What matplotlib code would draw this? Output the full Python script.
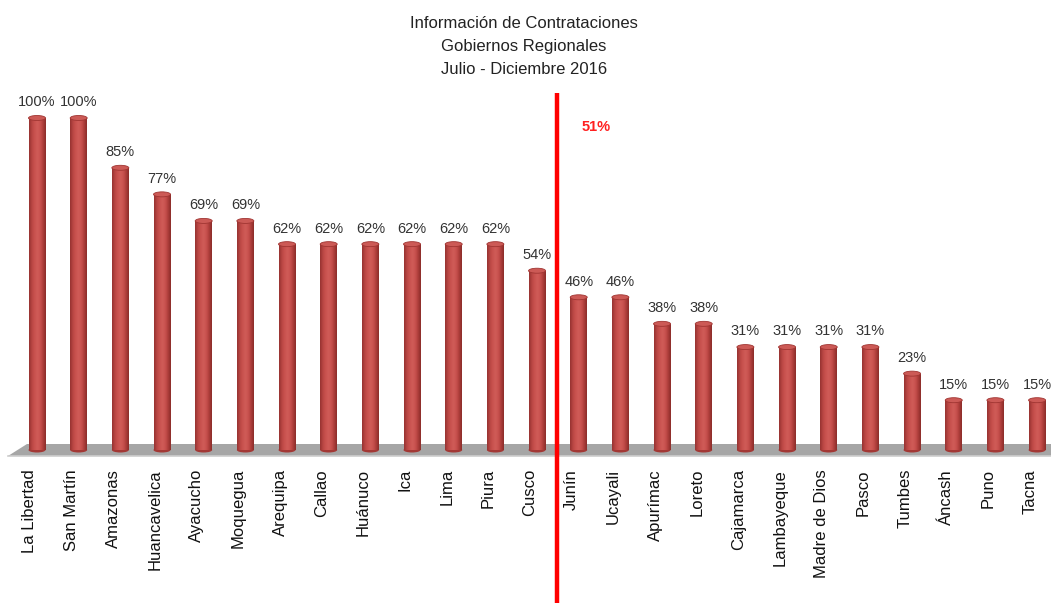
import matplotlib
matplotlib.use("Agg")
import matplotlib.pyplot as plt
import numpy as np
from matplotlib.patches import Ellipse, Polygon
from matplotlib.colors import LinearSegmentedColormap

regions = ["La Libertad", "San Martín", "Amazonas", "Huancavelica", "Ayacucho",
           "Moquegua", "Arequipa", "Callao", "Huánuco", "Ica", "Lima", "Piura",
           "Cusco", "Junín", "Ucayali", "Apurímac", "Loreto", "Cajamarca",
           "Lambayeque", "Madre de Dios", "Pasco", "Tumbes", "Áncash", "Puno", "Tacna"]
values = [100, 100, 85, 77, 69, 69, 62, 62, 62, 62, 62, 62, 54,
          46, 46, 38, 38, 31, 31, 31, 31, 23, 15, 15, 15]
average = 51
title_lines = ["Información de Contrataciones", "Gobiernos Regionales", "Julio - Diciembre 2016"]

plt.rcParams['font.family'] = ['Liberation Sans', 'DejaVu Sans']

W, H = 1051, 603
fig = plt.figure(figsize=(W / 100, H / 100), dpi=100)
ax = fig.add_axes([0, 0, 1, 1])
# pixel mapping: index 0 at x=37px, spacing 41.67px; value 0 at y=450px, 3.32 px per unit
sx, x0 = 41.67, 37
sy, y0 = 3.32, 450
ax.set_xlim(-x0 / sx, (W - x0) / sx)
ax.set_ylim(-(H - y0) / sy, y0 / sy)
ax.axis('off')

# floor
fl_top, fl_bot = (450 - 444) / sy, (450 - 456) / sy
floor = Polygon([((8 - x0) / sx, fl_bot), ((27 - x0) / sx, fl_top),
                 ((W - x0) / sx + 1, fl_top), ((W - x0) / sx + 1, fl_bot)],
                closed=True, facecolor="#A6A6A6", edgecolor="none", zorder=1)
ax.add_patch(floor)
ax.plot([(8 - x0) / sx, (W - x0) / sx + 1], [fl_bot, fl_bot], color="#CDCDCD", lw=1.2, zorder=1)

cmap = LinearSegmentedColormap.from_list(
    "cyl", ["#953230", "#B94643", "#C9524F", "#D05C58", "#C9524F", "#AE3E3B", "#8A2C29"])
grad = np.linspace(0, 1, 64).reshape(1, -1)
bw = 17 / sx
eh = 5 / sy
lab_dx = -7 / sx
x = np.arange(len(values))
bars = ax.bar(x, values, width=bw, color="#C0504D", zorder=2)
for i, (xi, v, b) in enumerate(zip(x, values, bars)):
    im = ax.imshow(grad, cmap=cmap, aspect='auto', extent=(xi - bw / 2, xi + bw / 2, 0, v),
                   zorder=3, interpolation='bicubic')
    im.set_clip_path(b)
    ax.add_patch(Ellipse((xi, 0), bw, eh, facecolor="#A33835", edgecolor="none", zorder=2.5))
    ax.add_patch(Ellipse((xi, v), bw, eh, facecolor="#CC5A56", edgecolor="#A03532", lw=0.6, zorder=4))
    ax.text(xi, v + 2.6, f"{v}%", ha='center', va='bottom', fontsize=10.5, color="#333333", zorder=5)
    ax.text(xi + lab_dx, (450 - 469) / sy, regions[i], rotation=90,
            ha='center', va='top', fontsize=12, color="#111111", zorder=5)

# average line
lx = (557 - x0) / sx
ax.plot([lx, lx], [(450 - 93) / sy, -(H - y0) / sy], color="#FF0000", lw=3.2, zorder=6,
        solid_capstyle='butt')
ax.text((596 - x0) / sx, (450 - 127) / sy, f"{average}%", color="#FF2020", fontsize=10.5,
        fontweight='bold', ha='center', va='center', zorder=6)

for i, t in enumerate(title_lines):
    fig.text(524 / W, 1 - (24 + 23 * i) / H, t, ha='center', va='center', fontsize=12, color="#222222")

fig.savefig("out.png", dpi=100)
